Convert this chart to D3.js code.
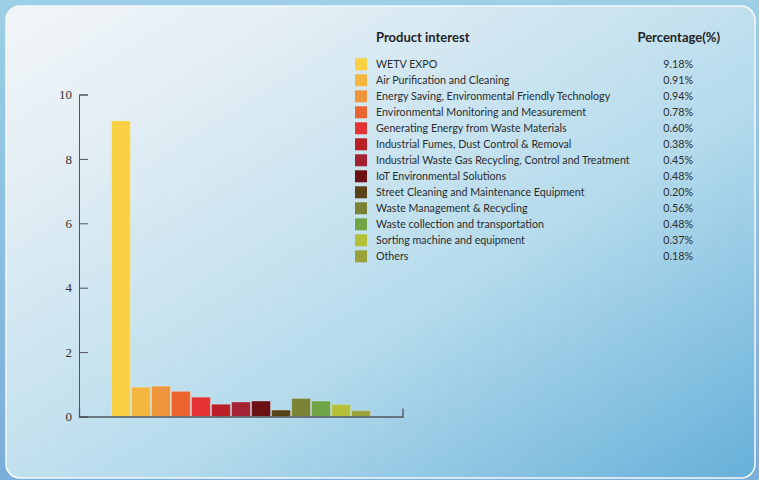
<!DOCTYPE html>
<html><head><meta charset="utf-8">
<script src="https://cdn.jsdelivr.net/npm/d3@7"></script>
<style>html,body{margin:0;padding:0;overflow:hidden;}svg{display:block;}</style>
</head><body>
<script>
const categories = ["WETV EXPO","Air Purification and Cleaning","Energy Saving, Environmental Friendly Technology","Environmental Monitoring and Measurement","Generating Energy from Waste Materials","Industrial Fumes, Dust Control & Removal","Industrial Waste Gas Recycling, Control and Treatment","IoT Environmental Solutions","Street Cleaning and Maintenance Equipment","Waste Management & Recycling","Waste collection and transportation","Sorting machine and equipment","Others"];
const values = [9.18,0.91,0.94,0.78,0.60,0.38,0.45,0.48,0.20,0.56,0.48,0.37,0.18];
const colors = ["#F9D142","#F4B63F","#EF963C","#EA6430","#E53234","#B91F26","#A32333","#6B1013","#5A4218","#7A8335","#6FA546","#B4C037","#9BA23A"];
const yTicks = [0,2,4,6,8,10];
const legendTitle = "Product interest";
const valueTitle = "Percentage(%)";

const W = 759, H = 480;
const svg = d3.select("body").append("svg").attr("width", W).attr("height", H);
const defs = svg.append("defs");
const bg = defs.append("linearGradient").attr("id","bg").attr("x1",0).attr("y1",0).attr("x2",0).attr("y2",1);
bg.append("stop").attr("offset","0").attr("stop-color","#9dcfe6");
bg.append("stop").attr("offset","1").attr("stop-color","#7aaedb");
const pg = defs.append("linearGradient").attr("id","pg").attr("x1",0).attr("y1",0).attr("x2",1).attr("y2",1);
pg.append("stop").attr("offset","0").attr("stop-color","#f2f5f8");
pg.append("stop").attr("offset","0.2").attr("stop-color","#e3eef4");
pg.append("stop").attr("offset","0.6").attr("stop-color","#b5dbec");
pg.append("stop").attr("offset","1").attr("stop-color","#66b0d9");

svg.append("rect").attr("width",W).attr("height",H).attr("fill","url(#bg)");
svg.append("rect").attr("x",6).attr("y",6).attr("width",749).attr("height",472).attr("rx",14)
  .attr("fill","url(#pg)").attr("stroke","#f4f9fc").attr("stroke-width",1.5);

const x = d3.scaleBand().domain(categories).range([111.5, 370.5]).paddingInner(0.06).paddingOuter(0);
const y = d3.scaleLinear().domain([0,10]).range([416.5, 94.5]);

svg.append("g").selectAll("rect").data(values).join("rect")
  .attr("x",(d,i)=>x(categories[i]))
  .attr("y",d=>y(d))
  .attr("width",x.bandwidth())
  .attr("height",d=>y(0)-y(d))
  .attr("fill",(d,i)=>colors[i])
  .attr("stroke","rgba(255,255,255,0.25)").attr("stroke-width",1);

const axisColor = "#4d565c";
const yAxis = svg.append("g").attr("transform","translate(79,0)")
  .call(d3.axisLeft(y).tickValues(yTicks).tickSize(-9).tickSizeOuter(-9).tickPadding(7).tickFormat(d3.format("d")));
yAxis.selectAll("path,line").attr("stroke",axisColor).attr("stroke-width",1);
yAxis.selectAll("text").attr("font-family","'Liberation Serif', serif").attr("font-size",13).attr("fill","#333");

const xAxis = svg.append("g").attr("transform","translate(0,416.5)")
  .call(d3.axisBottom(d3.scaleLinear().range([79,402.5])).tickValues([]).tickSizeInner(0).tickSizeOuter(-8));
xAxis.select("path").attr("stroke",axisColor).attr("stroke-width",1.3);

const lg = svg.append("g").attr("font-family","Lato, sans-serif");
lg.append("text").attr("x",376).attr("y",42).attr("font-size",13).attr("font-weight","bold").attr("fill","#1f2326").text(legendTitle);
lg.append("text").attr("x",720).attr("y",42).attr("text-anchor","end").attr("font-size",13).attr("font-weight","bold").attr("fill","#1f2326").text(valueTitle);
const rows = lg.selectAll("g.row").data(categories).join("g").attr("class","row")
  .attr("transform",(d,i)=>`translate(0,${64.3+i*16})`);
rows.append("rect").attr("x",355).attr("y",-6).attr("width",12).attr("height",12).attr("fill",(d,i)=>colors[i]);
rows.append("text").attr("x",376).attr("y",4).attr("font-size",10.7).attr("fill","#2a2d30").text(d=>d);
rows.append("text").attr("x",693).attr("y",4).attr("text-anchor","end").attr("font-size",10.7).attr("fill","#2a2d30")
  .text((d,i)=>values[i].toFixed(2)+"%");
</script>
</body></html>
